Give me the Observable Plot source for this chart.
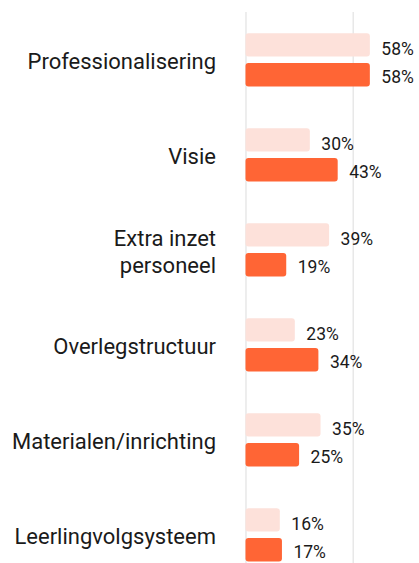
<!DOCTYPE html>
<html>
<head>
<meta charset="utf-8">
<script src="https://cdn.jsdelivr.net/npm/d3@7"></script>
<script src="https://cdn.jsdelivr.net/npm/@observablehq/plot@0.6"></script>
<style>
  html, body { margin: 0; padding: 0; background: #fff; overflow: hidden; }
  #chart svg { display: block; }
</style>
</head>
<body>
<div id="chart"></div>
<script>
const categories = ["Professionalisering", "Visie", "Extra inzet personeel", "Overlegstructuur", "Materialen/inrichting", "Leerlingvolgsysteem"];
const seriesLight = [58, 30, 39, 23, 35, 16];
const seriesOrange = [58, 43, 19, 34, 25, 17];
const gridTicks = [0, 50];

const lightData = categories.map((c, i) => ({category: c, value: seriesLight[i]}));
const orangeData = categories.map((c, i) => ({category: c, value: seriesOrange[i]}));

const labelFormat = d => d === "Extra inzet personeel" ? "Extra inzet\npersoneel" : d;

const chart = Plot.plot({
  width: 419,
  height: 584,
  marginTop: 12,
  marginBottom: 0,
  marginLeft: 245.5,
  marginRight: 0,
  style: {fontFamily: "Roboto, sans-serif", color: "#1a1a1a", background: "#fff"},
  x: {domain: [0, 50], range: [245.5, 352.7], axis: null},
  y: {domain: categories, padding: 0, axis: null, label: null},
  marks: [
    Plot.ruleX(gridTicks, {stroke: "#e2e2e2", strokeWidth: 1.2}),
    Plot.barX(lightData, {x: "value", y: "category", fill: "#fde1da", insetTop: 20.3, insetBottom: 51.6, rx: 3}),
    Plot.barX(orangeData, {x: "value", y: "category", fill: "#ff6535", insetTop: 50, insetBottom: 21.6, rx: 3}),
    Plot.text(lightData, {x: "value", y: "category", text: d => d.value + "%", textAnchor: "start", dx: 11, dy: -11.7, fontSize: 17.5, fill: "#1a1a1a"}),
    Plot.text(orangeData, {x: "value", y: "category", text: d => d.value + "%", textAnchor: "start", dx: 11, dy: 16.8, fontSize: 17.5, fill: "#1a1a1a"}),
    Plot.axisY({tickSize: 0, tickPadding: 30, fontSize: 22, lineHeight: 1.2, label: null, tickFormat: labelFormat, fill: "#1a1a1a"})
  ]
});
document.getElementById("chart").appendChild(chart);
</script>
</body>
</html>
